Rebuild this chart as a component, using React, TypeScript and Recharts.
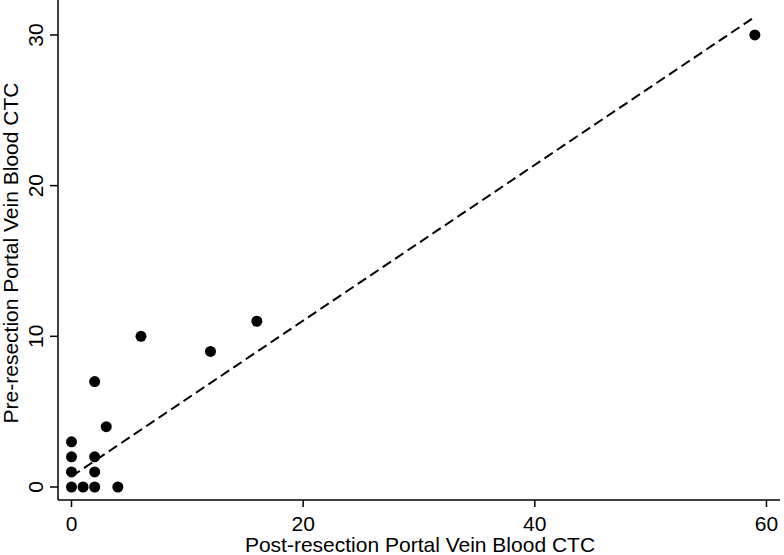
import React from "react";
import { ComposedChart, Scatter, XAxis, YAxis, ReferenceLine } from "recharts";

const postCTC = [0, 1, 2, 4, 0, 2, 0, 2, 0, 3, 2, 6, 12, 16, 59];
const preCTC = [0, 0, 0, 0, 1, 1, 2, 2, 3, 4, 7, 10, 9, 11, 30];
const xTicks = [0, 20, 40, 60];
const yTicks = [0, 10, 20, 30];
const fitX = [0, 59];
const fitY = [0.7, 31.2];

const points = postCTC.map((x, i) => ({ x, y: preCTC[i] }));

const FONT = "'Liberation Sans', Arial, Helvetica, sans-serif";

const XTick = (props: any) => {
  const { x, payload } = props;
  return (
    <text x={x} y={531} textAnchor="middle" fontSize={21} fontFamily={FONT} fill="#000">
      {payload.value}
    </text>
  );
};

const YTick = (props: any) => {
  const { y, payload } = props;
  const bx = 43;
  return (
    <text
      x={bx}
      y={y}
      textAnchor="middle"
      fontSize={21}
      fontFamily={FONT}
      fill="#000"
      transform={`rotate(-90, ${bx}, ${y})`}
    >
      {payload.value}
    </text>
  );
};

const Dot = (props: any) => {
  const { cx, cy } = props;
  return <circle cx={cx} cy={cy} r={5.5} fill="#000" />;
};

export default function App() {
  return (
    <div style={{ position: "absolute", left: 0, top: 0, width: 784, height: 555, background: "#fff" }}>
      <ComposedChart
        width={784}
        height={555}
        margin={{ top: 0, right: 4, bottom: 0, left: 0 }}
      >
        <XAxis
          type="number"
          dataKey="x"
          domain={[-1.166, 61.17]}
          ticks={xTicks}
          allowDataOverflow
          height={55}
          tickSize={7}
          tick={<XTick />}
          axisLine={{ stroke: "#000", strokeWidth: 1.5 }}
          tickLine={{ stroke: "#000", strokeWidth: 1.5 }}
        />
        <YAxis
          type="number"
          dataKey="y"
          domain={[-0.863, 32.32]}
          ticks={yTicks}
          allowDataOverflow
          width={58}
          tickSize={8}
          tick={<YTick />}
          axisLine={{ stroke: "#000", strokeWidth: 1.5 }}
          tickLine={{ stroke: "#000", strokeWidth: 1.5 }}
        />
        <ReferenceLine
          segment={[
            { x: fitX[0], y: fitY[0] },
            { x: fitX[1], y: fitY[1] },
          ]}
          stroke="#000"
          strokeWidth={2}
          strokeDasharray="10 5"
          ifOverflow="visible"
        />
        <Scatter data={points} fill="#000" shape={<Dot />} isAnimationActive={false} />
        <text x={420} y={552} textAnchor="middle" fontSize={21} fontFamily={FONT} fill="#000">
          Post-resection Portal Vein Blood CTC
        </text>
        <text
          x={18}
          y={253}
          textAnchor="middle"
          fontSize={21}
          fontFamily={FONT}
          fill="#000"
          transform="rotate(-90, 18, 253)"
        >
          Pre-resection Portal Vein Blood CTC
        </text>
      </ComposedChart>
    </div>
  );
}
